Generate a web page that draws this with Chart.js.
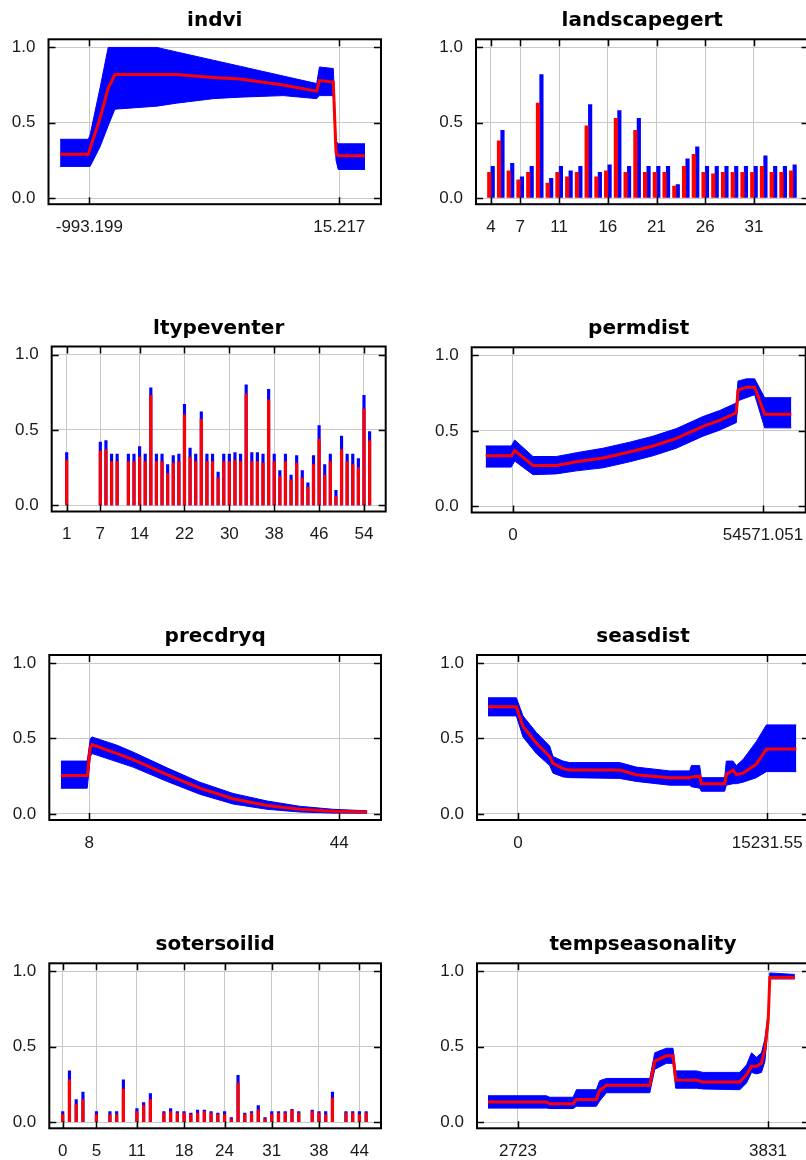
<!DOCTYPE html>
<html lang="en">
<head>
    <meta charset="UTF-8">
    <title>Response curves</title>
    <script src="https://cdn.jsdelivr.net/npm/chart.js"></script>
    <style>
        html, body { margin: 0; padding: 0; background: #fff; }
        #grid { position: relative; width: 806px; height: 1160px; overflow: hidden; }
        .panel { position: absolute; width: 427px; height: 300px; }
    </style>
</head>
<body>
    <div id="grid"></div>

    <script>
        // indvi
        const indviX    = [-1111, -997, -990, -950, -917, -890, -721, -641, -493, -385, -211, -76, -65, -9, 2, 11, 119];
        const indviMean = [0.29, 0.29, 0.33, 0.53, 0.73, 0.82, 0.82, 0.82, 0.80, 0.79, 0.75, 0.71, 0.78, 0.77, 0.30, 0.28, 0.28];
        const indviHi   = [0.39, 0.39, 0.42, 0.73, 1.00, 1.00, 1.00, 0.97, 0.915, 0.875, 0.81, 0.76, 0.87, 0.86, 0.38, 0.36, 0.36];
        const indviLo   = [0.21, 0.21, 0.21, 0.34, 0.48, 0.59, 0.61, 0.63, 0.66, 0.67, 0.68, 0.66, 0.68, 0.68, 0.25, 0.19, 0.19];
        const indviTicks = [-993.199, 15.217];

        // landscapegert
        const landCats = [4, 5, 6, 7, 8, 9, 10, 11, 12, 13, 14, 15, 16, 17, 18, 19, 20, 21, 22, 23, 24, 25, 26, 27, 28, 29, 30, 31, 32, 33, 34, 35];
        const landMean = [0.17, 0.38, 0.18, 0.12, 0.17, 0.63, 0.10, 0.17, 0.14, 0.17, 0.48, 0.14, 0.18, 0.53, 0.17, 0.45, 0.17, 0.17, 0.17, 0.08, 0.21, 0.29, 0.17, 0.16, 0.17, 0.17, 0.17, 0.17, 0.21, 0.17, 0.17, 0.18];
        const landHi   = [0.21, 0.45, 0.23, 0.14, 0.21, 0.82, 0.13, 0.21, 0.18, 0.21, 0.62, 0.17, 0.22, 0.58, 0.21, 0.53, 0.21, 0.21, 0.21, 0.09, 0.26, 0.34, 0.21, 0.21, 0.21, 0.21, 0.21, 0.21, 0.28, 0.21, 0.21, 0.22];
        const landTicks = [4, 7, 11, 16, 21, 26, 31];

        // ltypeventer
        const ltCats = [1, 7, 8, 9, 10, 12, 13, 14, 15, 16, 17, 18, 19, 20, 21, 22, 23, 24, 25, 26, 27, 28, 29, 30, 31, 32, 33, 34, 35, 36, 37, 38, 39, 40, 41, 42, 43, 44, 45, 46, 47, 48, 49, 50, 51, 52, 53, 54, 55];
        const ltMean = [0.30, 0.36, 0.37, 0.29, 0.29, 0.29, 0.29, 0.32, 0.29, 0.73, 0.29, 0.29, 0.21, 0.28, 0.29, 0.60, 0.32, 0.29, 0.57, 0.29, 0.29, 0.18, 0.29, 0.29, 0.30, 0.29, 0.74, 0.29, 0.29, 0.28, 0.70, 0.29, 0.19, 0.29, 0.17, 0.28, 0.18, 0.12, 0.27, 0.44, 0.20, 0.29, 0.06, 0.37, 0.29, 0.27, 0.25, 0.64, 0.43];
        const ltHi   = [0.35, 0.42, 0.43, 0.34, 0.34, 0.34, 0.34, 0.39, 0.34, 0.78, 0.34, 0.34, 0.27, 0.33, 0.34, 0.67, 0.38, 0.34, 0.62, 0.34, 0.34, 0.22, 0.34, 0.34, 0.35, 0.34, 0.80, 0.35, 0.35, 0.34, 0.77, 0.34, 0.23, 0.34, 0.20, 0.33, 0.23, 0.15, 0.33, 0.53, 0.27, 0.34, 0.10, 0.46, 0.34, 0.34, 0.31, 0.73, 0.49];
        const ltTicks = [1, 7, 14, 22, 30, 38, 46, 54];

        // permdist
        const permX    = [-5966, -364, 364, 4366, 9458, 13825, 19645, 25468, 30559, 35653, 41473, 45117, 48749, 49113, 50933, 52752, 54935, 60756];
        const permMean = [0.335, 0.335, 0.37, 0.27, 0.27, 0.295, 0.32, 0.36, 0.40, 0.45, 0.53, 0.57, 0.62, 0.77, 0.79, 0.79, 0.61, 0.61];
        const permHi   = [0.40, 0.40, 0.44, 0.33, 0.33, 0.355, 0.385, 0.425, 0.465, 0.515, 0.595, 0.635, 0.685, 0.83, 0.845, 0.845, 0.72, 0.72];
        const permLo   = [0.26, 0.26, 0.30, 0.21, 0.215, 0.235, 0.255, 0.295, 0.335, 0.385, 0.465, 0.505, 0.555, 0.70, 0.72, 0.74, 0.52, 0.52];
        const permTicks = [0, 54571.051];

        // precdryq
        const precX    = [3.9, 7.7, 8.15, 8.4, 12.0, 14.3, 19.2, 23.9, 28.7, 33.6, 38.3, 43.1, 48.0];
        const precMean = [0.254, 0.254, 0.44, 0.46, 0.40, 0.36, 0.26, 0.17, 0.10, 0.055, 0.03, 0.017, 0.012];
        const precHi   = [0.35, 0.35, 0.50, 0.51, 0.455, 0.41, 0.305, 0.21, 0.135, 0.085, 0.05, 0.03, 0.02];
        const precLo   = [0.17, 0.17, 0.38, 0.40, 0.345, 0.31, 0.215, 0.13, 0.065, 0.03, 0.012, 0.005, 0.004];
        const precTicks = [8, 44];

        // seasdist
        const seasX    = [-1833, -102, 305, 1120, 1935, 2139, 2750, 3156, 6212, 7230, 9267, 10489, 10591, 11100, 11202, 12627, 12729, 13137, 13341, 13748, 14563, 15174, 17005];
        const seasMean = [0.71, 0.71, 0.58, 0.47, 0.38, 0.335, 0.30, 0.29, 0.29, 0.26, 0.24, 0.24, 0.245, 0.25, 0.20, 0.20, 0.26, 0.29, 0.26, 0.27, 0.33, 0.43, 0.43];
        const seasHi   = [0.77, 0.77, 0.65, 0.54, 0.45, 0.38, 0.35, 0.34, 0.34, 0.31, 0.285, 0.285, 0.32, 0.32, 0.24, 0.24, 0.35, 0.35, 0.32, 0.36, 0.48, 0.59, 0.59];
        const seasLo   = [0.65, 0.65, 0.51, 0.40, 0.32, 0.27, 0.245, 0.24, 0.235, 0.215, 0.19, 0.19, 0.18, 0.17, 0.15, 0.15, 0.19, 0.20, 0.20, 0.21, 0.24, 0.28, 0.28];
        const seasTicks = [0, 15231.55];

        // sotersoilid
        const soCats = [0, 1, 2, 3, 5, 7, 8, 9, 11, 12, 13, 15, 16, 17, 18, 19, 20, 21, 22, 23, 24, 25, 26, 27, 28, 29, 30, 31, 32, 33, 34, 35, 37, 38, 39, 40, 42, 43, 44, 45];
        const soMean = [0.05, 0.28, 0.12, 0.15, 0.05, 0.05, 0.05, 0.22, 0.07, 0.11, 0.15, 0.06, 0.07, 0.06, 0.06, 0.05, 0.06, 0.07, 0.06, 0.05, 0.05, 0.02, 0.26, 0.05, 0.06, 0.08, 0.02, 0.05, 0.06, 0.06, 0.08, 0.06, 0.07, 0.06, 0.05, 0.16, 0.06, 0.06, 0.05, 0.06];
        const soHi   = [0.07, 0.34, 0.15, 0.20, 0.07, 0.07, 0.07, 0.28, 0.09, 0.13, 0.19, 0.07, 0.09, 0.07, 0.07, 0.06, 0.08, 0.08, 0.07, 0.06, 0.07, 0.03, 0.31, 0.06, 0.07, 0.11, 0.03, 0.07, 0.07, 0.07, 0.085, 0.07, 0.08, 0.07, 0.07, 0.20, 0.07, 0.07, 0.07, 0.07];
        const soTicks = [0, 5, 11, 18, 24, 31, 38, 44];

        // tempseasonality
        const tempX    = [2590, 2849, 2864, 2967, 2982, 3070, 3085, 3115, 3307, 3329, 3380, 3410, 3422, 3514, 3543, 3706, 3736, 3758, 3780, 3802, 3817, 3832, 3839, 3950];
        const tempMean = [0.133, 0.133, 0.122, 0.122, 0.15, 0.15, 0.21, 0.245, 0.245, 0.405, 0.44, 0.44, 0.28, 0.278, 0.267, 0.267, 0.315, 0.37, 0.37, 0.39, 0.48, 0.68, 0.96, 0.96];
        const tempHi   = [0.175, 0.175, 0.165, 0.165, 0.215, 0.215, 0.275, 0.29, 0.29, 0.46, 0.49, 0.49, 0.34, 0.34, 0.33, 0.33, 0.38, 0.46, 0.43, 0.46, 0.55, 0.73, 0.99, 0.98];
        const tempLo   = [0.093, 0.093, 0.09, 0.09, 0.105, 0.105, 0.14, 0.195, 0.195, 0.35, 0.39, 0.39, 0.225, 0.225, 0.22, 0.215, 0.26, 0.33, 0.32, 0.33, 0.40, 0.64, 0.95, 0.95];
        const tempTicks = [2723, 3831];

        const yTicks = [0, 0.5, 1];

        const RED = '#ff0000';
        const BLUE = '#0000ff';
        const COLW = 427, ROWH = 308, H = 300;
        const tickFont = { family: 'Liberation Sans, Arial, sans-serif', size: 17 };

        const pts = (xs, ys) => xs.map((x, i) => ({ x, y: ys[i] }));

        function band(xs, mean, lo, hi) {
            return [
                { data: pts(xs, mean), borderColor: RED, borderWidth: 3, pointRadius: 0, fill: false },
                { data: pts(xs, hi), borderColor: BLUE, borderWidth: 1, backgroundColor: BLUE, pointRadius: 0, fill: '+1' },
                { data: pts(xs, lo), borderColor: BLUE, borderWidth: 1, pointRadius: 0, fill: false }
            ];
        }

        function bars(cats, mean, hi, width, grouped) {
            return [
                { data: pts(cats, mean), backgroundColor: RED, barThickness: width, grouped },
                { data: pts(cats, hi), backgroundColor: BLUE, barThickness: width, grouped }
            ];
        }

        // box outline + inward tick marks on all four sides
        const frame = {
            id: 'frame',
            afterDraw(chart) {
                const { ctx, chartArea: a, scales: { x, y } } = chart;
                ctx.save();
                ctx.strokeStyle = '#000';
                ctx.lineWidth = 1.5;
                ctx.beginPath();
                x.ticks.forEach(t => {
                    const px = Math.round(x.getPixelForValue(t.value)) + 0.5;
                    ctx.moveTo(px, a.bottom); ctx.lineTo(px, a.bottom - 7);
                    ctx.moveTo(px, a.top); ctx.lineTo(px, a.top + 7);
                });
                y.ticks.forEach(t => {
                    const py = Math.round(y.getPixelForValue(t.value)) + 0.5;
                    ctx.moveTo(a.left, py); ctx.lineTo(a.left + 7, py);
                    ctx.moveTo(a.right, py); ctx.lineTo(a.right - 7, py);
                });
                ctx.stroke();
                ctx.lineWidth = 2;
                ctx.strokeRect(a.left, a.top, a.right - a.left, a.bottom - a.top);
                ctx.restore();
            }
        };

        function panel(slot, title, box, xr, type, datasets) {
            const div = document.createElement('div');
            div.className = 'panel';
            div.style.left = (slot % 2) * COLW + 'px';
            div.style.top = Math.floor(slot / 2) * ROWH + 'px';
            const canvas = document.createElement('canvas');
            canvas.width = COLW;
            canvas.height = H;
            div.appendChild(canvas);
            document.getElementById('grid').appendChild(div);

            new Chart(canvas, {
                type,
                data: { datasets },
                plugins: [frame],
                options: {
                    responsive: false,
                    animation: false,
                    events: [],
                    layout: { padding: { left: 0, top: 0, right: COLW - box.r, bottom: H - box.b - 40 } },
                    plugins: {
                        legend: { display: false },
                        tooltip: { enabled: false },
                        title: {
                            display: true,
                            fullSize: false,
                            text: title,
                            color: '#000',
                            font: { family: 'DejaVu Sans', weight: 'bold', size: 20, lineHeight: 1.2 },
                            padding: { top: 9, bottom: box.t - 33 }
                        }
                    },
                    scales: {
                        x: {
                            type: 'linear',
                            min: xr.min, max: xr.max,
                            offset: false,
                            afterFit: s => { s.height = 40; },
                            afterBuildTicks: s => { s.ticks = xr.ticks.map(v => ({ value: v })); },
                            ticks: {
                                autoSkip: false, maxRotation: 0, padding: 13, color: '#1a1a1a', font: tickFont,
                                callback: (v, i) => String(xr.ticks[i])
                            },
                            grid: { color: '#c8c8c8', drawTicks: false, offset: false },
                            border: { display: false }
                        },
                        y: {
                            min: -0.041, max: 1.054,
                            afterFit: s => { s.width = box.l; },
                            afterBuildTicks: s => { s.ticks = yTicks.map(v => ({ value: v })); },
                            ticks: { padding: 13, color: '#1a1a1a', font: tickFont, callback: v => v.toFixed(1) },
                            grid: { color: '#c8c8c8', drawTicks: false },
                            border: { display: false }
                        }
                    }
                }
            });
        }

        panel(0, 'indvi', { l: 48.5, r: 381, t: 39.3, b: 204.2 },
            { min: -1157.8, max: 183.4, ticks: indviTicks }, 'line', band(indviX, indviMean, indviLo, indviHi));
        panel(1, 'landscapegert', { l: 49, r: 381.5, t: 39.3, b: 204.2 },
            { min: 2.46, max: 36.6, ticks: landTicks }, 'bar', bars(landCats, landMean, landHi, 3.5, true));
        panel(2, 'ltypeventer', { l: 51.7, r: 385.7, t: 38.5, b: 203.5 },
            { min: -1.67, max: 57.87, ticks: ltTicks }, 'bar', bars(ltCats, ltMean, ltHi, 2.5, false));
        panel(3, 'permdist', { l: 44.7, r: 378.7, t: 39.3, b: 204.5 },
            { min: -9015, max: 63891, ticks: permTicks }, 'line', band(permX, permMean, permLo, permHi));
        panel(4, 'precdryq', { l: 49.3, r: 381, t: 39, b: 204 },
            { min: 2.24, max: 50.0, ticks: precTicks }, 'line', band(precX, precMean, precLo, precHi));
        panel(5, 'seasdist', { l: 50, r: 382, t: 39, b: 204 },
            { min: -2505, max: 17780, ticks: seasTicks }, 'line', band(seasX, seasMean, seasLo, seasHi));
        panel(6, 'sotersoilid', { l: 49.3, r: 381, t: 39.3, b: 204.3 },
            { min: -1.99, max: 47.2, ticks: soTicks }, 'bar', bars(soCats, soMean, soHi, 2.5, false));
        panel(7, 'tempseasonality', { l: 50, r: 382, t: 39.3, b: 204.3 },
            { min: 2541.3, max: 4012.7, ticks: tempTicks }, 'line', band(tempX, tempMean, tempLo, tempHi));
    </script>
</body>
</html>
